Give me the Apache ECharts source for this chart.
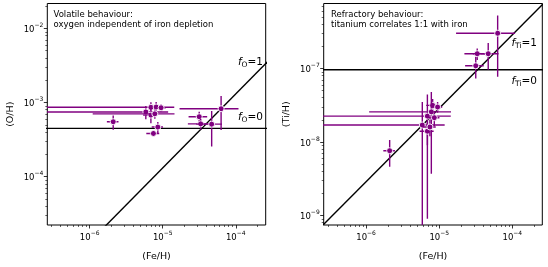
<!DOCTYPE html>
<html><head><meta charset="utf-8">
<script src="https://cdn.jsdelivr.net/npm/echarts@6/dist/echarts.min.js"></script>
<style>html,body{margin:0;padding:0;background:#fff}#c{width:548px;height:267px}</style>
</head><body><div id="c"></div>
<script>
// ---- data (linear values) ----
const feH    = [2.1e-6, 5.87e-6, 6.89e-6, 8.13e-6, 9.5e-6, 6.89e-6, 7.8e-6, 8.57e-6, 7.46e-6, 3.16e-5, 3.31e-5, 4.68e-5, 6.3e-5];
const feHErr = [0.38e-6, 6.0e-6, 7.5e-6, 1.5e-6, 1.5e-6, 1.5e-6, 6.7e-6, 1.5e-6, 1.5e-6, 0.9e-5, 1.1e-5, 1.8e-5, 4.6e-5];
const oH     = [5.5e-4, 7.46e-4, 8.61e-4, 8.69e-4, 8.5e-4, 6.76e-4, 7.03e-4, 4.66e-4, 3.82e-4, 6.43e-4, 5.15e-4, 5.1e-4, 8.24e-4];
const oHErr  = [1.2e-4, 1.5e-4, 1.5e-4, 1.5e-4, 1.0e-4, 1.5e-4, 1.0e-4, 0.8e-4, 0.3e-4, 1.1e-4, 0.85e-4, 2.55e-4, 4.0e-4];
const tiH    = [7.6e-9, 1.70e-8, 2.25e-8, 3.15e-8, 2.99e-8, 1.40e-8, 2.57e-8, 2.14e-8, 1.60e-8, 1.09e-7, 1.59e-7, 1.59e-7, 3.02e-7];
const tiHErr = [3.0e-9, 1.8e-8, 2.16e-8, 0.7e-8, 0.5e-8, 0.5e-8, 2.2e-8, 0.5e-8, 0.4e-8, 3.6e-8, 2.8e-8, 6.3e-8, 2.25e-7];

const oFloor = 4.48e-4;     // f_O = 0 level
const oRatio = 13.1;        // f_O = 1 : O/H = ratio * Fe/H
const tiFloor = 9.6e-8;     // f_Ti = 0 level
const tiRatio = 2.88e-3;    // f_Ti = 1 : Ti/H = ratio * Fe/H

const xRange  = [2.63e-7, 2.57e-4];
const oRange  = [2.22e-5, 2.17e-2];
const tiRange = [7.41e-10, 7.67e-7];
const xTicks  = [1e-6, 1e-5, 1e-4];
const oTicks  = [1e-4, 1e-3, 1e-2];
const tiTicks = [1e-9, 1e-8, 1e-7];

const texts = {
  left: ['Volatile behaviour:', 'oxygen independent of iron depletion'],
  right: ['Refractory behaviour:', 'titanium correlates 1:1 with iron']
};

// ---- helpers ----
const L = Math.log10;
const PURPLE = '#800080';
const FONT = 'DejaVu Sans';
function minorTicks(range) {
  const out = [];
  for (let e = Math.floor(L(range[0])); e <= Math.ceil(L(range[1])); e++) {
    for (let k = 2; k <= 9; k++) {
      const v = k * Math.pow(10, e);
      if (v >= range[0] && v <= range[1]) out.push(L(v));
    }
  }
  return out;
}
const supFmt = v => '{b|10}{s|\u2212' + Math.abs(Math.round(v)) + '}';
const labelRich = {
  b: {fontSize: 8.5, fontFamily: FONT, color: '#000', verticalAlign: 'bottom', padding: [3, 0, 0, 0]},
  s: {fontSize: 6, fontFamily: FONT, color: '#000', verticalAlign: 'top'}
};
function majorAxis(dim, grid, range, ticks, name) {
  const ax = {
    type: 'value', gridIndex: grid, min: L(range[0]), max: L(range[1]),
    position: dim === 'x' ? 'bottom' : 'left',
    axisLine: {show: false}, splitLine: {show: false},
    axisTick: {show: true, inside: false, length: 3.5, customValues: ticks.map(L), lineStyle: {color: '#000', width: 0.8}},
    axisLabel: {show: true, customValues: ticks.map(L), formatter: supFmt, rich: labelRich, margin: dim === 'x' ? 5.5 : 4},
    name: name, nameLocation: 'middle',
    nameTextStyle: {fontSize: 9.5, fontFamily: FONT, color: '#000'}
  };
  if (dim === 'x') { ax.nameGap = 27; }
  else { ax.nameGap = 32; ax.nameRotate = 90; }
  return ax;
}
function minorAxis(dim, grid, range) {
  return {
    type: 'value', gridIndex: grid, min: L(range[0]), max: L(range[1]),
    position: dim === 'x' ? 'bottom' : 'left', offset: 0,
    axisLine: {show: false}, splitLine: {show: false}, axisLabel: {show: false},
    axisTick: {show: true, inside: false, length: 2, customValues: minorTicks(range), lineStyle: {color: '#000', width: 0.6}}
  };
}
function errData(ys, yErrs, yRange) {
  const lo = v => v > 0 ? L(v) : L(xRange[0]) - 2;
  return feH.map((x, i) => [
    L(x), L(ys[i]),
    Math.max(lo(x - feHErr[i]), L(xRange[0]) - 2), L(x + feHErr[i]),
    (ys[i] - yErrs[i] > 0 ? L(ys[i] - yErrs[i]) : L(yRange[0]) - 2), L(ys[i] + yErrs[i])
  ]);
}
function renderErr(params, api) {
  const x = api.value(0), y = api.value(1);
  const p0 = api.coord([api.value(2), y]), p1 = api.coord([api.value(3), y]);
  const q0 = api.coord([x, api.value(4)]), q1 = api.coord([x, api.value(5)]);
  const c = api.coord([x, y]);
  const ls = {stroke: PURPLE, lineWidth: 1.4};
  return {type: 'group', children: [
    {type: 'line', shape: {x1: p0[0], y1: p0[1], x2: p1[0], y2: p1[1]}, style: ls},
    {type: 'line', shape: {x1: q0[0], y1: q0[1], x2: q1[0], y2: q1[1]}, style: ls},
    {type: 'circle', shape: {cx: c[0], cy: c[1], r: 3}, style: {fill: PURPLE, stroke: '#fff', lineWidth: 0.9}}
  ]};
}
function errSeries(xi, yi, ys, yErrs, yRange) {
  return {type: 'custom', xAxisIndex: xi, yAxisIndex: yi, clip: true, z: 5,
    data: errData(ys, yErrs, yRange), renderItem: renderErr, silent: true};
}
function lineSeries(xi, yi, pts) {
  return {type: 'line', xAxisIndex: xi, yAxisIndex: yi, data: pts, showSymbol: false, clip: true,
    lineStyle: {color: '#000', width: 1.4}, z: 3, silent: true, animation: false};
}
const xl0 = L(xRange[0]) - 1, xl1 = L(xRange[1]) + 1;

const fRich = {
  f: {fontSize: 10.5, fontFamily: FONT, fontStyle: 'italic', color: '#000', verticalAlign: 'bottom', padding: [0, 0, 2, 0]},
  sub: {fontSize: 7.5, fontFamily: FONT, color: '#000', verticalAlign: 'bottom'},
  n: {fontSize: 10.5, fontFamily: FONT, color: '#000', verticalAlign: 'bottom', padding: [0, 0, 2, 0]}
};
function fLabel(x, y, subTxt, val) {
  return {type: 'text', x: x, y: y,
    style: {text: '{f|f}{sub|' + subTxt + '}{n|=' + val + '}', rich: fRich, align: 'right', verticalAlign: 'middle'}};
}
function noteText(x, y, t) {
  return {type: 'text', left: x, top: y, style: {text: t, fontSize: 8.5, fontFamily: FONT, fill: '#000'}};
}

const chart = echarts.init(document.getElementById('c'), null, {renderer: 'canvas'});
chart.setOption({
  animation: false,
  backgroundColor: '#fff',
  grid: [
    {left: 47.3, top: 3.5, width: 218.4, height: 228.5, show: true, borderColor: '#000', borderWidth: 1, backgroundColor: 'transparent'},
    {left: 323.7, top: 3.5, width: 218.6, height: 228.5, show: true, borderColor: '#000', borderWidth: 1, backgroundColor: 'transparent'}
  ],
  xAxis: [
    majorAxis('x', 0, xRange, xTicks, '(Fe/H)'), minorAxis('x', 0, xRange),
    majorAxis('x', 1, xRange, xTicks, '(Fe/H)'), minorAxis('x', 1, xRange)
  ],
  yAxis: [
    majorAxis('y', 0, oRange, oTicks, '(O/H)'), minorAxis('y', 0, oRange),
    majorAxis('y', 1, tiRange, tiTicks, '(Ti/H)'), minorAxis('y', 1, tiRange)
  ],
  series: [
    lineSeries(0, 0, [[xl0, L(oFloor)], [xl1, L(oFloor)]]),
    lineSeries(0, 0, [[xl0, xl0 + L(oRatio)], [xl1, xl1 + L(oRatio)]]),
    errSeries(0, 0, oH, oHErr, oRange),
    lineSeries(2, 2, [[xl0, L(tiFloor)], [xl1, L(tiFloor)]]),
    lineSeries(2, 2, [[xl0, xl0 + L(tiRatio)], [xl1, xl1 + L(tiRatio)]]),
    errSeries(2, 2, tiH, tiHErr, tiRange)
  ],
  graphic: [
    noteText(53.5, 10, texts.left[0]), noteText(53.5, 20.5, texts.left[1]),
    noteText(331, 10, texts.right[0]), noteText(331, 20.5, texts.right[1]),
    fLabel(263, 63, 'O', 1), fLabel(263, 118, 'O', 0),
    fLabel(537, 44, 'Ti', 1), fLabel(537, 82, 'Ti', 0)
  ]
});
</script></body></html>
